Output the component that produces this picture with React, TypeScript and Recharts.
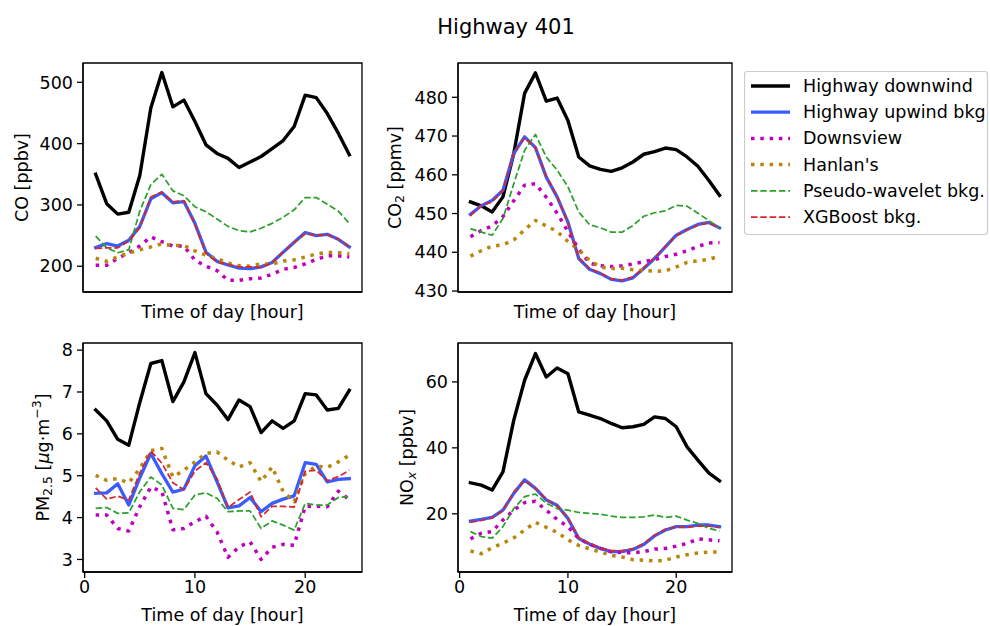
import React from 'react';
import { LineChart, Line, XAxis, YAxis, ReferenceArea } from 'recharts';

// Hour of day (x values shared by every panel)
const hours = [1, 2, 3, 4, 5, 6, 7, 8, 9, 10, 11, 12, 13, 14, 15, 16, 17, 18, 19, 20, 21, 22, 23, 24];

// CO [ppbv]
const coDownwind = [350, 302, 285, 288, 348, 458, 516, 460, 471, 436, 398, 384, 376, 361, 370, 379, 392, 405, 428, 479, 475, 449, 417, 382];
const coUpwind = [230.5, 237, 233, 242.5, 265, 310, 320, 303.5, 305.5, 270, 223, 208, 202, 197, 196, 199, 206, 223, 239, 255, 250, 252, 244, 231.5];
const coDownsview = [201.5, 201.5, 213, 222, 233, 248, 240, 233, 233, 210, 200, 193, 177, 177, 179.5, 181, 187, 195, 198, 204, 211, 217, 217, 215];
const coHanlans = [213, 208, 215.5, 221.5, 227, 231.5, 236.5, 233.5, 234, 225, 218, 212.5, 205, 201, 200, 204, 203.5, 208.5, 210.5, 215, 220, 222.5, 222, 220.5];
const coWavelet = [249, 230, 222, 227, 290, 333, 350, 323, 315, 297, 289, 277, 265, 258, 256, 262, 270, 280, 292, 312, 312, 301, 290, 270];
const coXgb = [229, 230, 230, 241, 263, 313, 321, 305, 307, 268, 221, 207, 203, 199, 199, 198, 206, 223, 239, 253, 251, 251, 244, 232];

// CO2 [ppmv]
const co2Downwind = [453, 452, 450.4, 454.3, 465.5, 481, 486.3, 479, 479.8, 474, 464.6, 462.3, 461.4, 460.9, 461.8, 463.3, 465.3, 466, 466.9, 466.5, 464.6, 462.2, 458.6, 454.7];
const co2Upwind = [449.8, 452, 453.4, 456, 465.5, 469.8, 467, 459.4, 454.3, 447.8, 438.4, 435.6, 434.5, 433, 432.6, 433.4, 435.8, 438.4, 441.4, 444.4, 445.9, 447.2, 447.7, 446.3];
const co2Downsview = [444, 445.6, 446.8, 449.2, 453.3, 457.3, 457.7, 454.2, 450.1, 445.4, 440.8, 437.2, 436.5, 436.3, 436.5, 437, 437.6, 438.1, 438.9, 439.5, 440.4, 441.5, 442.4, 442.5];
const co2Hanlans = [439, 440.4, 441.6, 441.9, 443.2, 445.8, 448.2, 446.8, 445.4, 442.8, 440.6, 437.9, 436.2, 435.8, 435.9, 435.5, 435.3, 435.1, 435.2, 436.2, 437.4, 437.8, 438.2, 439];
const co2Wavelet = [446.1, 445.2, 444.4, 448.7, 457.7, 466.3, 470.4, 464.6, 461.2, 456.9, 450.4, 447.1, 446.3, 445.2, 445.2, 446.9, 449.3, 450.2, 450.7, 452.1, 451.9, 450.1, 448.2, 446.3];
const co2Xgb = [449.5, 452, 453, 456, 465.8, 469.5, 467, 459.6, 454.5, 447.5, 438.6, 435.8, 434.6, 433.2, 432.8, 433.6, 436, 438.6, 441.5, 444.3, 445.8, 447, 447.6, 446.3];

// PM2.5 [ug m-3]
const pmDownwind = [6.57, 6.31, 5.87, 5.73, 6.75, 7.68, 7.75, 6.77, 7.24, 7.94, 6.96, 6.69, 6.34, 6.81, 6.65, 6.03, 6.31, 6.13, 6.31, 6.96, 6.93, 6.57, 6.61, 7.04];
const pmUpwind = [4.58, 4.59, 4.81, 4.3, 4.95, 5.53, 5.05, 4.61, 4.68, 5.24, 5.47, 4.86, 4.23, 4.28, 4.48, 4.14, 4.34, 4.44, 4.52, 5.31, 5.27, 4.85, 4.91, 4.93];
const pmDownsview = [4.06, 4.06, 3.74, 3.68, 4.26, 4.73, 4.62, 3.71, 3.74, 3.9, 4.03, 3.66, 3.05, 3.3, 3.42, 3.0, 3.29, 3.36, 3.34, 4.27, 4.27, 4.26, 4.63, 4.43];
const pmHanlans = [5.01, 4.89, 4.93, 4.83, 5.17, 5.6, 5.65, 4.97, 5.13, 5.33, 5.53, 5.57, 5.37, 5.21, 5.31, 4.86, 5.21, 4.62, 4.38, 5.05, 5.23, 5.2, 5.33, 5.49];
const pmWavelet = [4.22, 4.24, 4.1, 4.11, 4.62, 4.97, 4.78, 4.22, 4.19, 4.54, 4.59, 4.46, 4.14, 4.16, 4.16, 3.74, 3.92, 3.82, 3.7, 4.34, 4.3, 4.3, 4.48, 4.5];
const pmXgb = [4.71, 4.44, 4.51, 4.42, 5.06, 5.59, 5.3, 4.83, 4.67, 5.11, 5.31, 4.93, 4.24, 4.43, 4.61, 4.02, 4.27, 4.27, 4.25, 5.11, 5.13, 4.88, 4.98, 5.13];

// NOx [ppbv]
const noxDownwind = [29.4, 28.7, 27.2, 32.7, 48.4, 60.5, 68.6, 61.5, 64.2, 62.5, 50.9, 49.9, 48.9, 47.4, 46.1, 46.4, 47.1, 49.4, 48.9, 46.4, 40.3, 36.3, 32.4, 30.0];
const noxUpwind = [17.8, 18.3, 18.9, 21.1, 26.2, 30.3, 27.7, 24.2, 22.6, 18.6, 12.5, 10.8, 9.5, 8.5, 8.5, 9.2, 10.7, 13.3, 15.1, 16.1, 16.1, 16.6, 16.6, 16.1];
const noxDownsview = [12.4, 14.1, 14.6, 18.1, 21.1, 23.4, 23.8, 21.1, 18.3, 16.1, 12.5, 10.8, 9.5, 8.5, 8.2, 8.2, 8.5, 9.3, 9.5, 10.2, 11.0, 12.4, 12.1, 11.8];
const noxHanlans = [8.7, 7.9, 9.7, 11.1, 12.7, 15.1, 17.4, 15.9, 14.4, 12.1, 10.4, 9.4, 8.4, 7.4, 6.9, 6.1, 5.9, 5.7, 5.9, 6.9, 7.6, 8.1, 8.4, 8.4];
const noxWavelet = [14.6, 13.1, 12.6, 16.1, 21.6, 25.2, 26.0, 23.2, 21.6, 21.1, 20.4, 20.1, 19.9, 19.3, 18.9, 18.9, 19.1, 19.6, 18.9, 19.3, 18.1, 17.1, 15.6, 14.8];
const noxXgb = [17.5, 18.0, 18.8, 21.0, 26.6, 30.0, 27.8, 24.4, 22.4, 18.8, 12.7, 11.0, 9.7, 8.8, 8.8, 9.4, 11.0, 13.5, 15.3, 16.0, 15.9, 16.3, 16.3, 15.8];

// Axis settings
const xDomain = [-0.15, 25.15];
const xTicks = [0, 10, 20];
const coDomain = [158, 531.5];
const coTicks = [200, 300, 400, 500];
const co2Domain = [429.75, 488.85];
const co2Ticks = [430, 440, 450, 460, 470, 480];
const pmDomain = [2.7, 8.17];
const pmTicks = [3, 4, 5, 6, 7, 8];
const noxDomain = [2.35, 71.8];
const noxTicks = [20, 40, 60];

const FONT = '"DejaVu Sans", Verdana, sans-serif';
const FS = 17.5;

type SeriesStyle = {
  key: string;
  name: string;
  color: string;
  width: number;
  dash?: string;
  cap: 'butt' | 'square';
};

const SERIES: SeriesStyle[] = [
  { key: 'down', name: 'Highway downwind', color: '#000000', width: 3.4, cap: 'square' },
  { key: 'up', name: 'Highway upwind bkg', color: '#3a5cff', width: 3.3, cap: 'square' },
  { key: 'dv', name: 'Downsview', color: '#bf00bf', width: 3.5, dash: '3.5 5.8', cap: 'butt' },
  { key: 'hl', name: "Hanlan's", color: '#b8860b', width: 3.5, dash: '3.5 5.8', cap: 'butt' },
  { key: 'pw', name: 'Pseudo-wavelet bkg.', color: '#2ca02c', width: 1.75, dash: '6.5 2.8', cap: 'butt' },
  { key: 'xgb', name: 'XGBoost bkg.', color: '#d62728', width: 1.75, dash: '6.5 2.8', cap: 'butt' },
];

function buildRows(down: number[], up: number[], dv: number[], hl: number[], pw: number[], xgb: number[]) {
  return hours.map((h, i) => ({ hour: h, down: down[i], up: up[i], dv: dv[i], hl: hl[i], pw: pw[i], xgb: xgb[i] }));
}

const coRows = buildRows(coDownwind, coUpwind, coDownsview, coHanlans, coWavelet, coXgb);
const co2Rows = buildRows(co2Downwind, co2Upwind, co2Downsview, co2Hanlans, co2Wavelet, co2Xgb);
const pmRows = buildRows(pmDownwind, pmUpwind, pmDownsview, pmHanlans, pmWavelet, pmXgb);
const noxRows = buildRows(noxDownwind, noxUpwind, noxDownsview, noxHanlans, noxWavelet, noxXgb);

type PanelProps = {
  left: number;
  top: number;
  width: number;
  height: number;
  yAxisWidth: number;
  xAxisHeight: number;
  rows: any[];
  yDomain: number[];
  yTicks: number[];
  showXTickLabels: boolean;
  xLabelOffset: number;
  yLabelX: number;
  yLabel: React.ReactNode;
};

const axisLine = { stroke: '#000', strokeWidth: 1.3 };
const tickLine = { stroke: '#000', strokeWidth: 1.3 };

function Panel(p: PanelProps) {
  const renderXLabel = (props: any) => {
    const vb = props.viewBox;
    return (
      <text
        x={vb.x + vb.width / 2}
        y={vb.y + p.xLabelOffset}
        textAnchor="middle"
        dominantBaseline="central"
        fontSize={FS}
        fontFamily={FONT}
        fill="#000"
      >
        Time of day [hour]
      </text>
    );
  };
  const renderYLabel = (props: any) => {
    const vb = props.viewBox;
    const cx = p.yLabelX;
    const cy = vb.y + vb.height / 2;
    return (
      <text
        x={cx}
        y={cy}
        transform={`rotate(-90, ${cx}, ${cy})`}
        textAnchor="middle"
        dominantBaseline="central"
        fontSize={FS}
        fontFamily={FONT}
        fill="#000"
      >
        {p.yLabel}
      </text>
    );
  };
  return (
    <div style={{ position: 'absolute', left: p.left, top: p.top, width: p.width, height: p.height }}>
      <LineChart
        width={p.width}
        height={p.height}
        data={p.rows}
        margin={{ top: 8, right: 4, left: 0, bottom: 0 }}
      >
        <XAxis
          dataKey="hour"
          type="number"
          domain={xDomain}
          ticks={xTicks}
          allowDataOverflow
          height={p.xAxisHeight}
          tickSize={6}
          tickMargin={3}
          axisLine={axisLine}
          tickLine={tickLine}
          tick={p.showXTickLabels ? { fill: '#000', fontSize: FS, fontFamily: FONT } : false}
          label={renderXLabel}
        />
        <YAxis
          type="number"
          domain={p.yDomain}
          ticks={p.yTicks}
          allowDataOverflow
          width={p.yAxisWidth}
          tickSize={6}
          tickMargin={4}
          axisLine={axisLine}
          tickLine={tickLine}
          tick={{ fill: '#000', fontSize: FS, fontFamily: FONT }}
          label={renderYLabel}
        />
        {SERIES.map((s) => (
          <Line
            key={s.key}
            dataKey={s.key}
            name={s.name}
            type="linear"
            stroke={s.color}
            strokeWidth={s.width}
            strokeDasharray={s.dash}
            strokeLinecap={s.cap}
            strokeLinejoin="round"
            dot={false}
            activeDot={false}
            isAnimationActive={false}
          />
        ))}
        {/* frame around the plotting area */}
        <ReferenceArea
          x1={xDomain[0]}
          x2={xDomain[1]}
          y1={p.yDomain[0]}
          y2={p.yDomain[1]}
          ifOverflow="visible"
          fill="none"
          fillOpacity={0}
          stroke="#000"
          strokeWidth={1.3}
        />
      </LineChart>
    </div>
  );
}

function LegendBox() {
  const rowGap = 26.2;
  return (
    <svg
      width={245}
      height={165}
      style={{ position: 'absolute', left: 744, top: 71 }}
    >
      <rect x={0.5} y={0.5} width={243} height={163} rx={3} fill="#fff" stroke="#cccccc" strokeWidth={1.2} />
      {SERIES.map((s, i) => {
        const y = 15 + i * rowGap;
        return (
          <g key={s.key}>
            <line
              x1={7}
              x2={46}
              y1={y}
              y2={y}
              stroke={s.color}
              strokeWidth={s.width}
              strokeDasharray={s.dash}
              strokeLinecap="butt"
            />
            <text x={59} y={y} dominantBaseline="central" fontSize={FS} fontFamily={FONT} fill="#000">
              {s.name}
            </text>
          </g>
        );
      })}
    </svg>
  );
}

export default function App() {
  return (
    <div
      style={{
        position: 'fixed',
        left: 0,
        top: 0,
        width: 990,
        height: 626,
        background: '#fff',
        fontFamily: FONT,
        overflow: 'hidden',
      }}
    >
      <div
        style={{
          position: 'absolute',
          left: 356,
          top: 15,
          width: 300,
          textAlign: 'center',
          fontSize: 21,
          lineHeight: '24px',
          color: '#000',
        }}
      >
        Highway 401
      </div>

      <Panel
        left={0}
        top={55}
        width={366}
        height={275}
        yAxisWidth={83}
        xAxisHeight={38}
        rows={coRows}
        yDomain={coDomain}
        yTicks={coTicks}
        showXTickLabels={false}
        xLabelOffset={20}
        yLabelX={22}
        yLabel={<tspan>CO [ppbv]</tspan>}
      />
      <Panel
        left={374}
        top={55}
        width={362}
        height={275}
        yAxisWidth={84}
        xAxisHeight={38}
        rows={co2Rows}
        yDomain={co2Domain}
        yTicks={co2Ticks}
        showXTickLabels={false}
        xLabelOffset={20}
        yLabelX={21}
        yLabel={
          <>
            <tspan>CO</tspan>
            <tspan fontSize={12.5} dy={4}>2</tspan>
            <tspan dy={-4}> [ppmv]</tspan>
          </>
        }
      />
      <Panel
        left={0}
        top={335}
        width={366}
        height={291}
        yAxisWidth={83}
        xAxisHeight={54}
        rows={pmRows}
        yDomain={pmDomain}
        yTicks={pmTicks}
        showXTickLabels={true}
        xLabelOffset={43}
        yLabelX={43}
        yLabel={
          <>
            <tspan>PM</tspan>
            <tspan fontSize={12.5} dy={4}>2.5</tspan>
            <tspan dy={-4}> [</tspan>
            <tspan fontStyle="italic">μ</tspan>
            <tspan>g·m</tspan>
            <tspan fontSize={12.5} dy={-7}>−3</tspan>
            <tspan dy={7}>]</tspan>
          </>
        }
      />
      <Panel
        left={374}
        top={335}
        width={362}
        height={291}
        yAxisWidth={84}
        xAxisHeight={54}
        rows={noxRows}
        yDomain={noxDomain}
        yTicks={noxTicks}
        showXTickLabels={true}
        xLabelOffset={43}
        yLabelX={33}
        yLabel={
          <>
            <tspan>NO</tspan>
            <tspan fontSize={12.5} dy={4} fontStyle="italic">x</tspan>
            <tspan dy={-4}> [ppbv]</tspan>
          </>
        }
      />

      <LegendBox />
    </div>
  );
}
